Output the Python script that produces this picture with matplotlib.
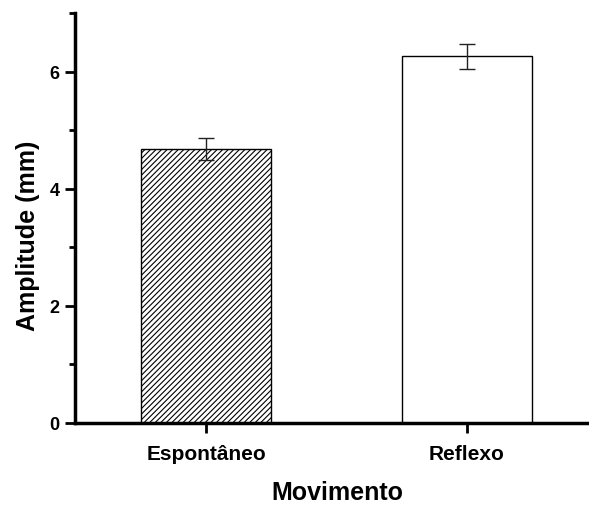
import matplotlib
matplotlib.use("Agg")
import matplotlib.pyplot as plt
from matplotlib.ticker import MultipleLocator

categories = ["Espontâneo", "Reflexo"]
values = [4.68, 6.26]
errors = [0.19, 0.21]
hatches = ["//////", ""]

plt.rcParams['font.family'] = ['Liberation Sans', 'DejaVu Sans']
plt.rcParams['hatch.linewidth'] = 0.8

fig = plt.figure(figsize=(5.89, 5.06), dpi=100)
ax = fig.add_axes([75/589, 1-424/506, (589-75)/589, 410/506])

x = [1, 2]
for xi, v, e, h in zip(x, values, errors, hatches):
    ax.bar(xi, v, width=0.5, color="white", edgecolor="black", linewidth=1.0, hatch=h)
    ax.errorbar(xi, v, yerr=e, fmt="none", ecolor="#222222", elinewidth=1.0, capsize=6, capthick=1.0)

ax.set_xlim(0.495, 2.47)
ax.set_ylim(0, 7)
ax.set_xticks(x)
ax.set_xticklabels(categories, fontsize=15, fontweight="bold")
ax.yaxis.set_major_locator(MultipleLocator(2))
ax.yaxis.set_minor_locator(MultipleLocator(1))
for lbl in ax.get_yticklabels():
    lbl.set_fontweight("bold")
    lbl.set_fontsize(13)
ax.tick_params(axis="both", which="major", direction="out", length=7, width=2)
ax.tick_params(axis="y", which="minor", direction="out", length=4, width=2)
ax.tick_params(axis="x", which="major", pad=8)
ax.tick_params(axis="y", which="major", pad=4)

for s in ["top", "right"]:
    ax.spines[s].set_visible(False)
for s in ["left", "bottom"]:
    ax.spines[s].set_linewidth(2.5)

ax.set_ylabel("Amplitude (mm)", fontsize=18, fontweight="bold", labelpad=7)
ax.set_xlabel("Movimento", fontsize=18, fontweight="bold", labelpad=12)
ax.yaxis.label.set_y(0.46)
ax.xaxis.label.set_x(0.511)

fig.savefig("out.png", dpi=100)
